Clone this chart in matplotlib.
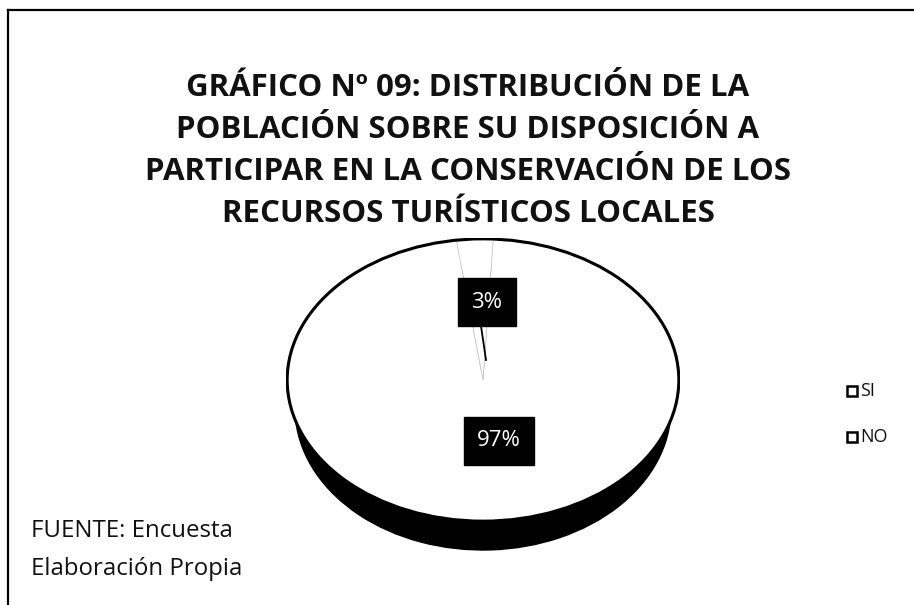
import matplotlib
matplotlib.use("Agg")
import matplotlib.pyplot as plt
from matplotlib.patches import Ellipse, Rectangle

title_lines = [
    "GRÁFICO Nº 09: DISTRIBUCIÓN DE LA",
    "POBLACIÓN SOBRE SU DISPOSICIÓN A",
    "PARTICIPAR EN LA CONSERVACIÓN DE LOS",
    "RECURSOS TURÍSTICOS LOCALES",
]
categories = ["SI", "NO"]
values = [97, 3]
pct_labels = ["97%", "3%"]
source_lines = ["FUENTE: Encuesta", "Elaboración Propia"]

W, H = 914, 605
fig = plt.figure(figsize=(W / 100, H / 100), dpi=100)
fig.patch.set_facecolor("white")

# background axes in pixel coordinates
bg = fig.add_axes([0, 0, 1, 1])
bg.set_xlim(0, W)
bg.set_ylim(H, 0)
bg.axis("off")

# frame (left and top visible)
bg.plot([8, 8], [10, H], color="black", lw=1.6)
bg.plot([8, W], [10, 10], color="black", lw=1.6)

# title
title_y = [88, 130, 172, 214]
for line, y in zip(title_lines, title_y):
    bg.text(468, y, line, ha="center", va="center", fontsize=22.5,
            fontweight="bold", family="Open Sans", color="#111111")

# source
for line, y in zip(source_lines, [531, 569]):
    bg.text(31, y, line, ha="left", va="center", fontsize=17.3,
            family="Open Sans", color="#111111")

# pie geometry (pixels)
cx, cy, rx, ry = 483, 380, 197, 142
side_dy, side_rx = 28, 188

def pie_axes(center_y, half_w):
    left = (cx - half_w) / W
    bottom = 1 - (center_y + ry) / H
    return fig.add_axes([left, bottom, 2 * half_w / W, 2 * ry / H])

start = 97.8
# side (dark, shifted down, slightly narrower)
ax_side = pie_axes(cy + side_dy, side_rx)
ax_side.pie(values, startangle=start, colors=["black", "black"],
            wedgeprops=dict(edgecolor="black", linewidth=1))
ax_side.set_aspect("auto")
ax_side.set_xlim(-1, 1)
ax_side.set_ylim(-1, 1)
ax_side.axis("off")
ax_side.patch.set_alpha(0)
ax_side.set_zorder(1)

# top face
ax_top = pie_axes(cy, rx)
ax_top.pie(values, startangle=start, colors=["white", "white"],
           wedgeprops=dict(edgecolor="#c8c8c8", linewidth=0.5))
ax_top.add_patch(Ellipse((0, 0), 2, 2, fill=False, edgecolor="black", lw=2.2))
ax_top.set_aspect("auto")
ax_top.set_xlim(-1.006, 1.006)
ax_top.set_ylim(-1.006, 1.006)
ax_top.axis("off")
ax_top.patch.set_alpha(0)
ax_top.set_zorder(2)

# labels
lbl = fig.add_axes([0, 0, 1, 1])
lbl.set_xlim(0, W)
lbl.set_ylim(H, 0)
lbl.axis("off")
lbl.patch.set_alpha(0)
lbl.set_zorder(3)
lbl.plot([481, 486], [326, 360], color="black", lw=1.3)
label_pos = {"97%": (499, 441), "3%": (487, 302)}
for t in pct_labels:
    x, y = label_pos[t]
    lbl.text(x, y, t, ha="center", va="center", fontsize=16, color="white",
             family="Open Sans",
             bbox=dict(boxstyle="square,pad=0.6", facecolor="black", edgecolor="black"))

# legend
for i, c in enumerate(categories):
    y = 391 + i * 46
    lbl.add_patch(Rectangle((847, y - 5), 10, 10, facecolor="white",
                            edgecolor="black", lw=1.8))
    lbl.text(860, y, c, ha="left", va="center", fontsize=13,
             family="Open Sans", color="#111111")

fig.savefig("out.png", dpi=100, facecolor="white")
